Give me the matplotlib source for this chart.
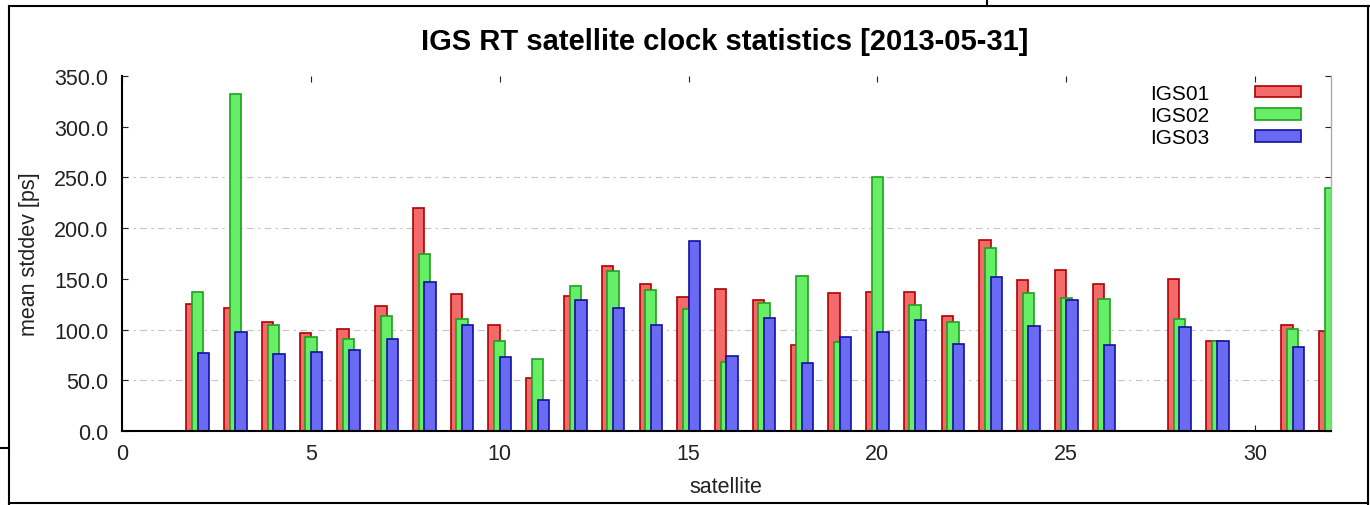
import numpy as np
import matplotlib.pyplot as plt
from matplotlib.lines import Line2D

plt.rcParams['font.family'] = ['Liberation Sans', 'DejaVu Sans']

W, H = 1370, 506

# satellite numbers and mean stddev [ps] per product (nan = no data)
sats = np.arange(1, 33)
nan = np.nan
igs01 = [nan, 125, 121, 107, 97, 101, 123, 220, 135, 105, 52, 133, 163, 145, 132, 140,
         129, 85, 136, 137, 137, 113, 188, 149, 159, 145, nan, 150, 89, nan, 105, 99]
igs02 = [nan, 137, 332, 105, 93, 91, 113, 175, 110, 89, 71, 143, 158, 139, 120, 68,
         126, 153, 88, 250, 124, 107, 180, 136, 131, 130, nan, 110, 89, nan, 101, 240]
igs03 = [nan, 77, 98, 76, 78, 80, 91, 147, 105, 73, 31, 129, 121, 105, 187, 74,
         111, 67, 93, 98, 109, 86, 152, 104, 129, 85, nan, 103, 89, nan, 83, nan]
labels = ['IGS01', 'IGS02', 'IGS03']
grid_levels = [50, 100, 200, 250]

fills = ['#f26a6a', '#66ee66', '#6a6af2']
edges = ['#b00000', '#20a020', '#1010a0']
offsets = [-0.15, 0.0, 0.15]


def fx(x):
    return x / W


def fy(y):
    return 1 - y / H


fig = plt.figure(figsize=(W / 100, H / 100), dpi=100)
ax = fig.add_axes([fx(122.2), fy(432), (1330.5 - 122.2) / W, (432 - 77) / H])

for vals, lab, fc, ec, off in zip([igs01, igs02, igs03], labels, fills, edges, offsets):
    ax.bar(sats + off, vals, 0.3, color=fc, edgecolor=ec, linewidth=1.2,
           label=lab, zorder=2)

for g in grid_levels:
    ax.axhline(g, color='#c4c4c4', lw=0.8, ls=(0, (6, 4, 2, 4)), zorder=1)

ax.set_xlim(0, 32)
ax.set_ylim(0, 350)
ax.set_xticks(range(0, 31, 5))
ax.set_yticks(np.arange(0, 351, 50))
ax.set_yticklabels(['%.1f' % v for v in np.arange(0, 351, 50)])
ax.tick_params(direction='in', top=True, right=True, length=4, width=0.8,
               labelsize=15.5, colors='#222222')
ax.tick_params(axis='y', pad=10)
ax.tick_params(axis='x', pad=9)

ax.spines['top'].set_visible(False)
ax.spines['right'].set_color('#aaaaaa')
ax.spines['right'].set_linewidth(1.0)
ax.spines['left'].set_linewidth(1.5)
ax.spines['bottom'].set_linewidth(1.5)

ax.set_xlabel('satellite', fontsize=15.5, va='center', color='#222222')
ax.xaxis.set_label_coords(0.5, (432 - 488) / 355)
ax.set_ylabel('mean stddev [ps]', fontsize=15.5, va='center', color='#222222')
ax.yaxis.set_label_coords((30 - 122.2) / 1208.3, 0.5)

fig.text(fx(725), fy(42), 'IGS RT satellite clock statistics [2013-05-31]',
         ha='center', va='center', fontsize=21, fontweight='bold')

ax.legend(loc='upper right', bbox_to_anchor=(1 - 9 / 1208, 1 + 13 / 355),
          markerfirst=False, frameon=False, fontsize=15,
          handlelength=2.2, handleheight=0.5, labelspacing=0.15,
          handletextpad=2.2, borderaxespad=0.6)

# screenshot frame
frame = [((9, 7), (9, 506)), ((9, 7), (1370, 7)), ((1368, 7), (1368, 506)),
         ((9, 504), (1368, 504)), ((987, 0), (987, 7)), ((0, 449), (9, 449))]
for (x0, y0), (x1, y1) in frame:
    fig.add_artist(Line2D([fx(x0), fx(x1)], [fy(y0), fy(y1)], color='k', lw=1.5,
                          transform=fig.transFigure))

fig.savefig('out.png', dpi=100)
